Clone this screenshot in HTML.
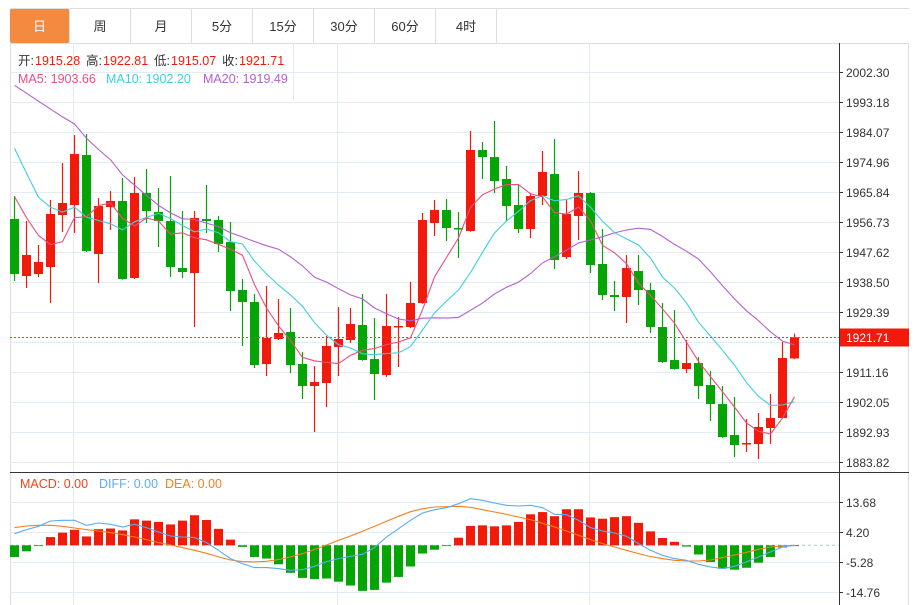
<!DOCTYPE html>
<html><head><meta charset="utf-8">
<style>
body{margin:0;background:#fff;font-family:"Liberation Sans","Noto Sans CJK SC",sans-serif;}
#wrap{position:relative;width:922px;height:605px;overflow:hidden;background:#fff}
.tab{position:absolute;top:8px;height:35px;line-height:35px;text-align:center;font-size:13px;color:#333;border-right:1px solid #ddd;border-top:1px solid #ddd;box-sizing:border-box;}
</style></head>
<body>
<div id="wrap">
<div class="tab" style="left:10px;width:60px;background:#f28b3f;color:#fff;border-radius:2px">日</div>
<div class="tab" style="left:70px;width:61px">周</div>
<div class="tab" style="left:131px;width:61px">月</div>
<div class="tab" style="left:192px;width:61px">5分</div>
<div class="tab" style="left:253px;width:61px">15分</div>
<div class="tab" style="left:314px;width:61px">30分</div>
<div class="tab" style="left:375px;width:61px">60分</div>
<div class="tab" style="left:436px;width:61px">4时</div>
<div class="tab" style="left:497px;width:412px;border-right:none"></div>
<svg id="svg" width="922" height="605" style="position:absolute;left:0;top:0"></svg>
</div>
<script>
const priceTicks=[2002.30,1993.18,1984.07,1974.96,1965.84,1956.73,1947.62,1938.50,1929.39,1920.27,1911.16,1902.05,1892.93,1883.82];
const priceTickLabels=["2002.30","1993.18","1984.07","1974.96","1965.84","1956.73","1947.62","1938.50","1929.39","","1911.16","1902.05","1892.93","1883.82"];
const macdTicks=[13.68,4.20,-5.28,-14.76];
const priorCloses=[1995,1993,2007,2010,2020,2035,2030,2025,2032,2027,2022.7,2017.6,1989,1977.5,1962.2,1978.7,1971.6,1973,1958];
const opens=[1957.64,1940.32,1940.93,1943.06,1958.85,1961.89,1977.08,1947.01,1961.28,1963.11,1939.72,1965.54,1959.76,1957.03,1942.75,1941.23,1957.64,1957.33,1950.65,1936.07,1932.42,1913.59,1921.18,1923.31,1913.59,1906.90,1907.82,1918.75,1920.88,1925.44,1915.10,1910.24,1924.83,1924.83,1932.12,1956.42,1960.37,1954.90,1953.99,1978.60,1976.47,1969.79,1961.89,1954.60,1964.63,1971.31,1946.09,1958.55,1965.54,1943.97,1934.55,1933.94,1941.84,1936.07,1924.83,1914.80,1912.07,1913.89,1907.21,1901.43,1892.02,1889.28,1889.28,1894.14,1897.18,1915.28];
const highs=[1964.63,1957.03,1949.74,1963.41,1974.65,1983.16,1983.46,1964.02,1966.14,1970.09,1970.40,1972.83,1967.06,1970.70,1960.07,1960.07,1967.97,1958.55,1956.73,1939.41,1934.85,1937.28,1933.33,1930.60,1917.23,1912.98,1922.09,1930.90,1930.60,1934.85,1927.56,1934.85,1927.86,1938.50,1959.46,1963.41,1963.71,1959.76,1984.37,1981.03,1987.41,1973.74,1967.97,1965.54,1978.30,1981.94,1963.41,1972.22,1965.84,1954.60,1938.80,1946.70,1946.70,1938.19,1932.12,1929.99,1920.88,1915.71,1911.46,1906.90,1903.56,1896.88,1898.70,1904.47,1920.27,1922.81];
const lows=[1938.80,1936.68,1940.02,1932.12,1953.69,1953.38,1947.60,1938.19,1954.30,1939.20,1939.41,1956.42,1949.13,1940.02,1939.72,1924.83,1953.38,1947.61,1929.69,1919.06,1912.37,1909.94,1920.88,1910.85,1902.95,1892.93,1900.52,1909.94,1919.97,1914.60,1902.65,1909.63,1912.68,1924.52,1931.90,1952.47,1950.95,1945.79,1953.80,1969.79,1965.54,1957.03,1953.38,1951.86,1961.89,1942.45,1945.49,1951.26,1941.23,1933.03,1929.69,1926.04,1931.51,1923.01,1913.89,1911.90,1910.85,1902.95,1896.27,1891.20,1885.33,1886.85,1884.72,1889.28,1897.00,1915.07];
const closes=[1940.93,1946.70,1944.57,1959.16,1962.50,1977.38,1947.92,1961.59,1963.11,1939.41,1965.54,1960.07,1957.03,1943.06,1941.54,1957.94,1957.03,1950.04,1935.76,1932.42,1913.28,1921.49,1923.01,1913.28,1906.90,1908.12,1919.06,1921.18,1925.74,1914.80,1910.55,1925.13,1925.13,1932.12,1957.33,1960.37,1954.90,1954.60,1978.60,1976.47,1969.18,1961.59,1954.60,1964.63,1971.92,1945.18,1959.16,1965.54,1943.66,1934.55,1933.94,1942.75,1936.07,1924.83,1914.19,1912.07,1913.89,1906.90,1901.43,1891.41,1888.98,1889.59,1894.45,1897.18,1915.41,1921.71];
const macdHist=[-3.7,-1.9,-0.2,2.6,4.0,4.9,2.8,5.1,5.3,4.7,8.2,7.8,7.4,6.6,7.8,9.5,8.0,5.2,1.8,-0.5,-3.7,-4.2,-6.0,-8.7,-10.3,-10.7,-10.5,-11.5,-12.7,-14.4,-14.1,-11.8,-10.0,-6.7,-2.6,-1.4,-0.2,2.4,6.1,6.3,6.0,6.3,7.4,9.8,10.5,9.2,11.4,11.4,8.8,8.4,8.9,9.2,7.1,4.4,2.3,1.1,-0.4,-2.9,-5.3,-7.4,-7.7,-7.1,-5.5,-3.7,-0.7,0];
const diffVals=[3.68,4.95,6.0,7.68,7.89,7.89,6.32,7.05,6.63,5.79,6.63,5.58,4.21,2.95,2.63,2.42,0.84,-1.58,-4.21,-5.79,-7.05,-7.05,-7.37,-7.89,-7.68,-6.63,-5.16,-4.21,-3.47,-2.84,-0.74,2.63,5.26,7.89,10.21,11.26,11.89,13.16,14.74,14.21,13.37,12.63,12.42,12.63,11.89,9.79,9.68,7.89,5.58,4.53,3.89,2.84,0.53,-1.58,-3.16,-4.21,-4.74,-6.0,-6.84,-7.37,-6.63,-5.26,-3.68,-2.11,-0.53,0];
const deaVals=[5.58,6.11,6.32,6.32,6.0,5.47,4.95,4.53,4.0,3.37,2.63,1.79,0.84,0.11,-0.74,-1.58,-2.53,-3.68,-4.63,-5.16,-5.26,-5.05,-4.53,-3.68,-2.63,-1.37,0.11,1.58,2.95,4.42,6.0,7.58,9.16,10.63,11.58,12.11,12.21,12.32,12.0,11.26,10.53,9.79,8.95,8.11,6.95,5.79,4.53,3.16,1.79,0.53,-0.53,-1.58,-2.63,-3.58,-4.21,-4.74,-4.95,-4.95,-4.63,-3.89,-3.05,-2.21,-1.26,-0.53,-0.21,0];
const lastPrice=1921.71;

const NS="http://www.w3.org/2000/svg";
const svg=document.getElementById('svg');
function mk(tag,attrs,parent){const e=document.createElementNS(NS,tag);for(const k in attrs)e.setAttribute(k,attrs[k]);(parent||svg).appendChild(e);return e;}
const yP=v=>72+(2002.30-v)*(390/118.48);
const yM=v=>545.3-v*(30/9.48);
const xC=i=>14+i*12;
const RED='#f21a0a',GREEN='#06a506';

const frame=mk('g',{});


mk('rect',{x:10.5,y:43.5,width:898,height:570,fill:'none',stroke:'#ddd'},frame);
const grid=mk('g',{});


priceTicks.forEach(v=>{const y=Math.round(yP(v))+0.5;mk('line',{x1:10,x2:839,y1:y,y2:y,stroke:'#e3ecf3'},grid);});
macdTicks.forEach(v=>{const y=Math.round(yM(v))+0.5;mk('line',{x1:10,x2:839,y1:y,y2:y,stroke:'#e3ecf3'},grid);});
[73,337,589].forEach(x=>{mk('line',{x1:x+.5,x2:x+.5,y1:43,y2:605,stroke:'#e3ecf3'},grid);});
mk('line',{x1:293.5,x2:293.5,y1:43,y2:100,stroke:'#e3ecf3'},grid);
const ax=mk('g',{});


mk('line',{x1:839.5,x2:839.5,y1:43,y2:605,stroke:'#333'},ax);
mk('line',{x1:10,x2:909,y1:472.5,y2:472.5,stroke:'#333'},ax);
priceTicks.forEach((v,i)=>{if(!priceTickLabels[i])return;const y=Math.round(yP(v))+0.5;
 mk('line',{x1:839,x2:843,y1:y,y2:y,stroke:'#333'},ax);
 const t=mk('text',{x:846,y:y+4.5,'font-size':12,fill:'#333'},ax);t.textContent=priceTickLabels[i];
 
 });
macdTicks.forEach(v=>{const y=Math.round(yM(v))+0.5;
 mk('line',{x1:839,x2:843,y1:y,y2:y,stroke:'#333'},ax);
 const t=mk('text',{x:846,y:y+4.5,'font-size':12,fill:'#333'},ax);t.textContent=v.toFixed(2);
 
 });

const cg=mk('g',{});


closes.forEach((c,i)=>{const o=opens[i];const col=c>=o?RED:GREEN;const x=xC(i);
 const g=mk('g',{},cg);
 
 
 mk('line',{x1:x+.5,x2:x+.5,y1:yP(highs[i]),y2:yP(lows[i]),stroke:col,'stroke-width':1.2},g);
 const top=yP(Math.max(o,c)),bot=yP(Math.min(o,c));
 mk('rect',{x:x-4,y:top,width:9,height:Math.max(1.5,bot-top),fill:col},g);});

const all=priorCloses.concat(closes);const P=priorCloses.length;
function ma(n){return closes.map((_,i)=>{let s=0;for(let k=0;k<n;k++)s+=all[P+i-k];return s/n;});}
function line(vals,yf,col,name){const p=mk('polyline',{points:vals.map((v,i)=>xC(i)+.5+','+yf(v).toFixed(1)).join(' '),fill:'none',stroke:col,'stroke-width':1.1});
 
 }
line(ma(20),yP,'#b45fd0','ma20-line');
line(ma(10),yP,'#3fcfe0','ma10-line');
line(ma(5),yP,'#ec4d7e','ma5-line');

const ly=Math.round(yP(lastPrice))+0.5;
const lp=mk('line',{x1:10,x2:839,y1:ly,y2:ly,stroke:'#f23a2a','stroke-width':1,'stroke-dasharray':'2,2'});


const lb=mk('rect',{x:840,y:ly-9,width:69,height:18,fill:RED});


const lt=mk('text',{x:846,y:ly+4.5,'font-size':12,fill:'#fff'});lt.textContent=lastPrice.toFixed(2);



const zy=yM(0);
const zl=mk('line',{x1:10,x2:839,y1:zy,y2:zy,stroke:'#a9c8dc','stroke-dasharray':'3,3'});


const mg=mk('g',{});


macdHist.forEach((v,i)=>{const y=yM(v);const r=mk('rect',{x:xC(i)-4,y:Math.min(y,zy),width:9,height:Math.max(0.8,Math.abs(y-zy)),fill:v>=0?RED:GREEN},mg);
 
 });
line(deaVals,yM,'#f77f1e','dea-line');
line(diffVals,yM,'#5aabf5','diff-line');

function txt(x,y,s,col,name){const t=mk('text',{x:x,y:y,'font-size':12.5,fill:col,'font-family':'"Liberation Sans","Noto Sans CJK SC",sans-serif'});t.textContent=s;
 
 return t;}
txt(18,65,'开:','#333','open-label');txt(35,65,'1915.28',RED,'open-value');
txt(86,65,'高:','#333','high-label');txt(103,65,'1922.81',RED,'high-value');
txt(154,65,'低:','#333','low-label');txt(171,65,'1915.07',RED,'low-value');
txt(222,65,'收:','#333','close-label');txt(239,65,'1921.71',RED,'close-value');
txt(18,83,'MA5: 1903.66','#ec4d7e','ma5-legend');
txt(106,83,'MA10: 1902.20','#3fcfe0','ma10-legend');
txt(203,83,'MA20: 1919.49','#b45fd0','ma20-legend');
txt(20,488,'MACD: 0.00','#f2421a','macd-legend');
txt(99,488,'DIFF: 0.00','#5aabf5','diff-legend');
txt(165,488,'DEA: 0.00','#f77f1e','dea-legend');
</script>
</body></html>
